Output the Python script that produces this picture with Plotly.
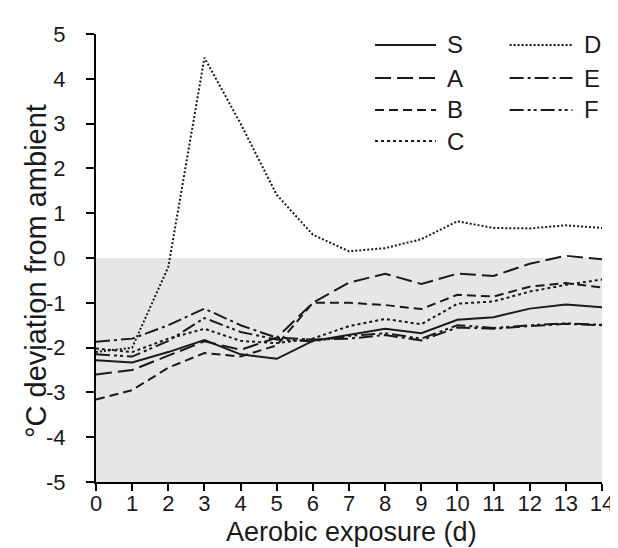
import plotly.graph_objects as go

days = list(range(15))
S = [-2.28, -2.33, -2.1, -1.83, -2.15, -2.25, -1.85, -1.72, -1.58, -1.68, -1.38, -1.32, -1.13, -1.04, -1.1]
A = [-2.6, -2.5, -2.18, -1.86, -2.05, -1.78, -1.0, -0.55, -0.35, -0.58, -0.35, -0.4, -0.13, 0.05, -0.03]
B = [-3.16, -2.95, -2.45, -2.12, -2.2, -1.95, -1.0, -1.0, -1.05, -1.14, -0.82, -0.86, -0.64, -0.56, -0.66]
C = [-2.02, -2.1, -1.8, -1.58, -1.85, -1.9, -1.8, -1.52, -1.36, -1.48, -1.02, -0.97, -0.75, -0.6, -0.48]
D = [-2.1, -2.0, -0.2, 4.47, 3.0, 1.41, 0.52, 0.15, 0.22, 0.42, 0.82, 0.67, 0.66, 0.73, 0.67]
E = [-1.87, -1.8, -1.5, -1.13, -1.5, -1.78, -1.82, -1.8, -1.72, -1.84, -1.55, -1.58, -1.52, -1.47, -1.5]
F = [-2.15, -2.2, -1.85, -1.34, -1.65, -1.82, -1.86, -1.74, -1.68, -1.8, -1.5, -1.56, -1.5, -1.46, -1.49]

names = ["S", "A", "B", "C", "D", "E", "F"]
values = [S, A, B, C, D, E, F]
dashes = ["solid", "16px,6px", "9px,5px", "3px,3px", "2px,2px",
          "14px,4px,3px,4px", "14px,4px,3px,3px,3px,4px"]
yticks = list(range(-5, 6))

INK = "#1a1a1a"
font = "Liberation Sans, Arial, sans-serif"

fig = go.Figure()
for name, vals, dash in zip(names, values, dashes):
    fig.add_trace(go.Scatter(
        x=days, y=vals, name=name, mode="lines",
        line=dict(color=INK, width=2, dash=dash), showlegend=False,
    ))

fig.add_shape(type="rect", xref="x", yref="y", x0=0, x1=14, y0=-5, y1=0,
              fillcolor="#e6e6e6", line=dict(width=0), layer="below")

# manual two-column legend (plot area: 515 x 448 px, origin at 88, 474)
PW, PH = 515.0, 448.0
def px(xp):
    return (xp - 88) / PW
def py(yp):
    return (474 - yp) / PH

col1 = dict(x0=px(372), x1=px(434), tx=px(443))
col2 = dict(x0=px(509), x1=px(573), tx=px(583))
rows = [py(v) for v in (37, 70, 102, 133)]
layout_pos = {"S": (col1, 0), "A": (col1, 1), "B": (col1, 2), "C": (col1, 3),
              "D": (col2, 0), "E": (col2, 1), "F": (col2, 2)}
annotations = []
for name, dash in zip(names, dashes):
    col, r = layout_pos[name]
    yy = rows[r]
    fig.add_shape(type="line", xref="paper", yref="paper",
                  x0=col["x0"], x1=col["x1"], y0=yy, y1=yy,
                  line=dict(color=INK, width=2, dash=dash))
    annotations.append(dict(text=name, xref="paper", yref="paper", x=col["tx"], y=yy,
                            xanchor="left", yanchor="middle", showarrow=False,
                            font=dict(size=24, color=INK, family=font)))

# axis titles as annotations for exact placement
annotations.append(dict(text="Aerobic exposure (d)", xref="paper", yref="paper",
                        x=px(348), y=py(524), xanchor="center", yanchor="middle",
                        showarrow=False, font=dict(size=27, color=INK, family=font)))
annotations.append(dict(text="°C deviation from ambient", xref="paper", yref="paper",
                        x=px(27), y=py(263), xanchor="center", yanchor="middle",
                        textangle=-90, showarrow=False,
                        font=dict(size=29, color=INK, family=font)))

fig.update_layout(
    width=618, height=548,
    margin=dict(l=88, r=15, t=26, b=74),
    paper_bgcolor="white", plot_bgcolor="white",
    font=dict(family=font, color=INK, size=22),
    showlegend=False,
    annotations=annotations,
    xaxis=dict(range=[0, 14], tickmode="array", tickvals=days, ticktext=[str(d) for d in days],
               showline=True, linecolor="black", linewidth=2, ticks="outside", ticklen=7,
               tickwidth=2, tickcolor="black", showgrid=False, zeroline=False,
               tickfont=dict(size=22), ticklabelstandoff=-6),
    yaxis=dict(range=[-5, 5], tickmode="array", tickvals=yticks,
               ticktext=[str(v) for v in yticks],
               showline=True, linecolor="black", linewidth=2, ticks="outside", ticklen=8,
               tickwidth=2, tickcolor="black", showgrid=False, zeroline=False,
               tickfont=dict(size=22), ticklabelstandoff=16),
)

fig.write_html("out.html")
